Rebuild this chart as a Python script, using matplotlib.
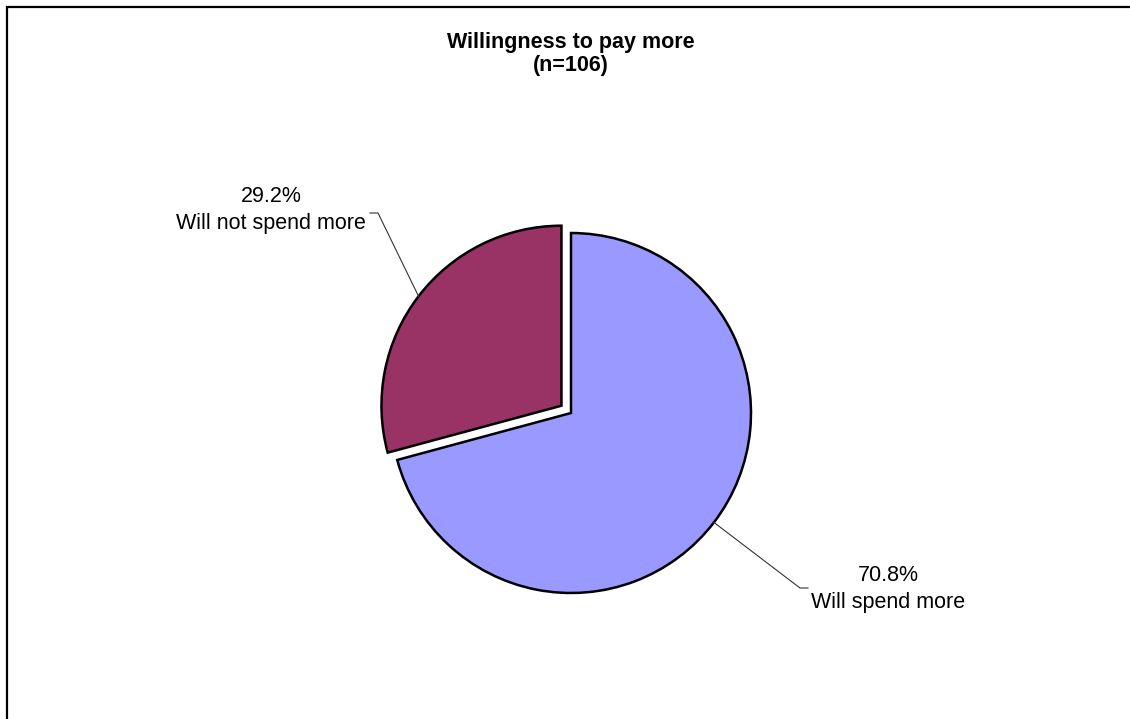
import numpy as np
import matplotlib.pyplot as plt
from matplotlib.patches import Rectangle

plt.rcParams['font.family'] = ['Liberation Sans', 'DejaVu Sans']

labels = ['Will spend more', 'Will not spend more']
shares = [70.8, 29.2]
colors = ['#9999FF', '#993366']

W, H = 1130, 719
fig = plt.figure(figsize=(W / 100, H / 100), dpi=100)
ax = fig.add_axes([0, 0, 1, 1])

# outer frame (right/bottom edges run off the image)
fig.patches.append(Rectangle((6.5 / W, -0.1), 1.2, 1.1 - 7 / H, transform=fig.transFigure,
                             fill=False, ec='black', lw=1.6))

cx, cy, r = 571, H - 413, 180
wedges, _ = ax.pie(shares, colors=colors, explode=[0, 12], startangle=90,
                   counterclock=False, center=(cx, cy), radius=r,
                   wedgeprops=dict(edgecolor='black', linewidth=1.8), frame=True)
ax.set_xlim(0, W)
ax.set_ylim(0, H)
ax.set_aspect('equal')
ax.axis('off')

# label text anchors (pixels) and leader elbows
text_pos = [(888, H - 589), (271, H - 210)]
elbow = [((800, H - 588), (808, H - 588)), ((378, H - 213), (370, H - 213))]

for w, lab, val, tp, (e1, e2) in zip(wedges, labels, shares, text_pos, elbow):
    mid = np.deg2rad((w.theta1 + w.theta2) / 2)
    wx, wy = w.center
    sx = wx + w.r * np.cos(mid)
    sy = wy + w.r * np.sin(mid)
    ax.plot([sx, e1[0], e2[0]], [sy, e1[1], e2[1]], color='#333333', lw=0.8, zorder=1)
    ax.text(tp[0], tp[1], f'{val:.1f}%\n{lab}', ha='center', va='center',
            fontsize=15.5, linespacing=1.32)

ax.text(571, H - 54, 'Willingness to pay more\n(n=106)', ha='center', va='center',
        fontsize=15.5, fontweight='bold', linespacing=1.1)

fig.savefig('out.png', dpi=100)
